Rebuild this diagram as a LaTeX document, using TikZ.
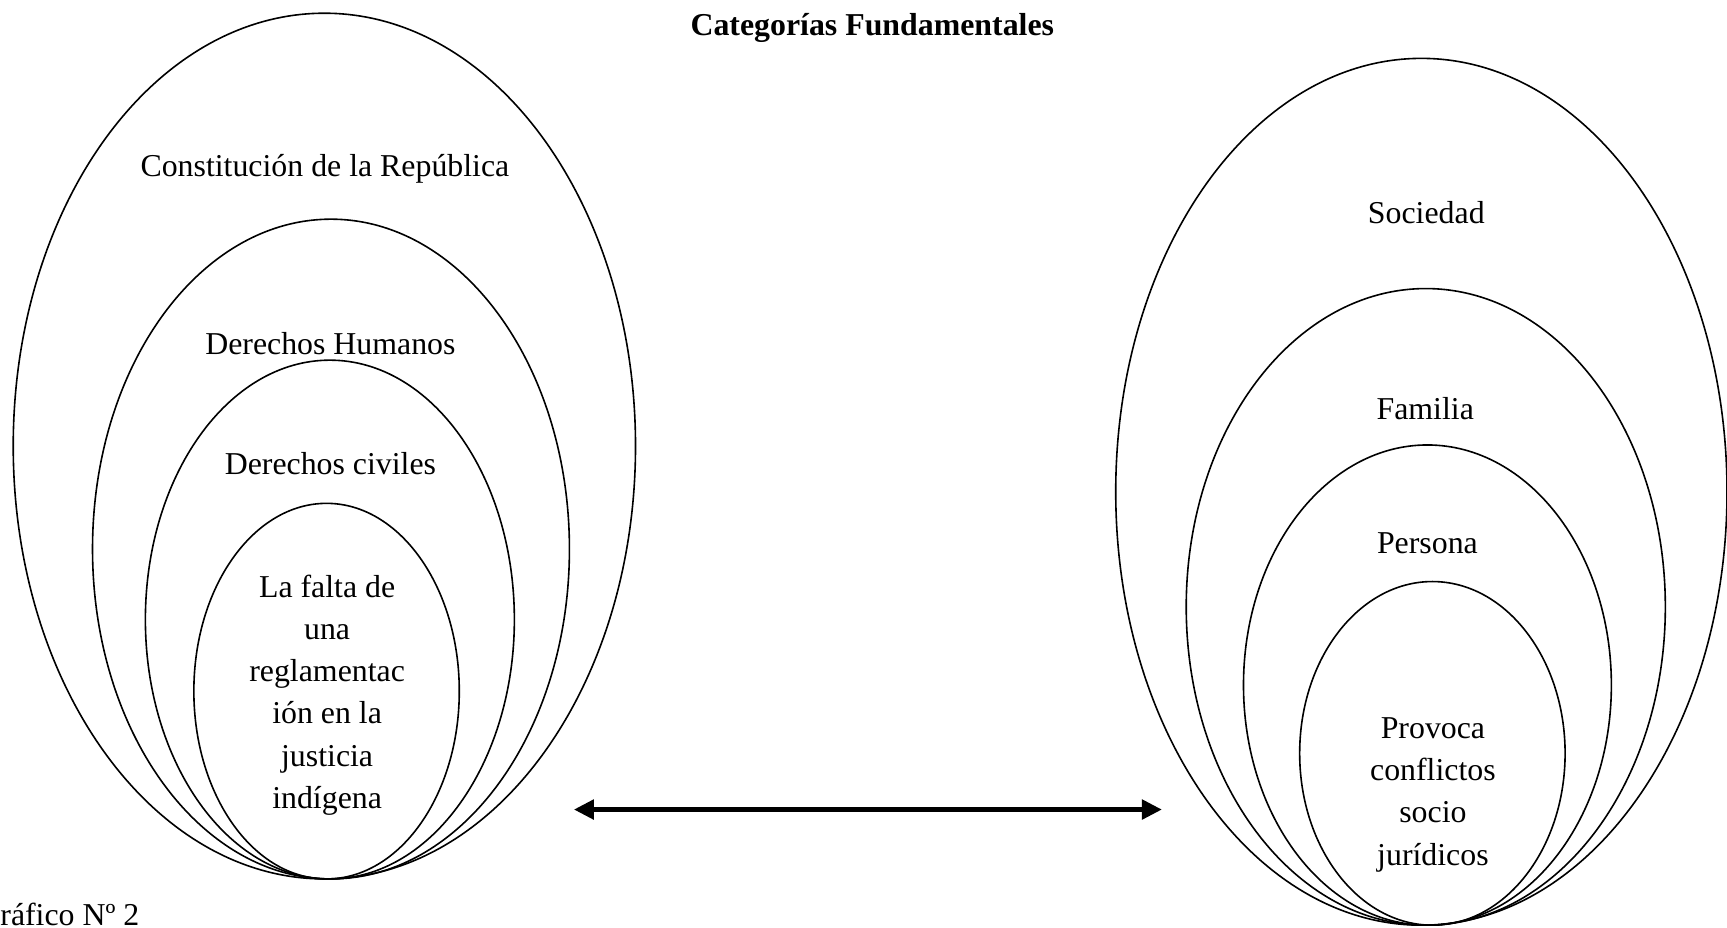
\documentclass[tikz,border=0pt]{standalone}
\usepackage{fontspec}
\setmainfont{Liberation Serif}
\usetikzlibrary{shapes.geometric,arrows.meta,positioning}
\tikzset{>={Triangle[length=10pt,width=9.5pt]}}

\begin{document}
\begin{tikzpicture}[x=0.55pt,y=-0.55pt,
		ring/.style 2 args={draw, ellipse, line width=0.8pt, inner sep=0pt,
		minimum width=#1*0.55pt, minimum height=#2*0.55pt},
		cattext/.style={inner sep=0pt, anchor=base,
		font=\fontsize{15.9}{21.1}\selectfont},
		catblock/.style={cattext, anchor=center, align=center}]
		\useasboundingbox (0,0) rectangle (1568,842);
		\node [cattext, font=\fontsize{15.9}{21.1}\selectfont\bfseries] (title) at (792,32) {Categorías Fundamentales};
		%% Left
		\node [ring={565}{786}] (constit) at (294.5,405) {};
		\node [ring={433}{599}] (ddhh) at (300.5,498.5) {};
		\node [ring={335}{471}] (civil) at (299.5,562.5) {};
		\node [ring={241}{341}] (falta) at (296.5,627.5) {};
		\node [cattext] (tconstit) at (295,160.5) {Constitución de la República};
		\node [cattext] (tddhh) at (300,321.5) {Derechos Humanos};
		\node [cattext] (tcivil) at (300,430.5) {Derechos civiles};
		\node [catblock] (tfalta) at (297,631) {La falta de\\una\\reglamentac\\ión en la\\justicia\\indígena};
		%% Right
		\node [ring={555}{787}] (soc) at (1290.5,446.5) {};
		\node [ring={435}{578}] (fam) at (1294.5,551) {};
		\node [ring={334}{436}] (pers) at (1296,622) {};
		\node [ring={241}{312}] (conf) at (1300.5,684) {};
		\node [cattext] (tsoc) at (1295,202.5) {Sociedad};
		\node [cattext] (tfam) at (1294,380.5) {Familia};
		\node [cattext] (tpers) at (1296,502.5) {Persona};
		\node [catblock] (tconf) at (1301,721.5) {Provoca\\conflictos\\socio\\jurídicos};
		%% Relation
		\coordinate (arrL) at (521,735);
		\coordinate (arrR) at (1055,735);
		\draw [<->, line width=2.6pt] (arrL) -- (arrR);
		\node [cattext, anchor=base west] (graf) at (0,840) {ráfico Nº 2};
	\end{tikzpicture}
\end{document}
